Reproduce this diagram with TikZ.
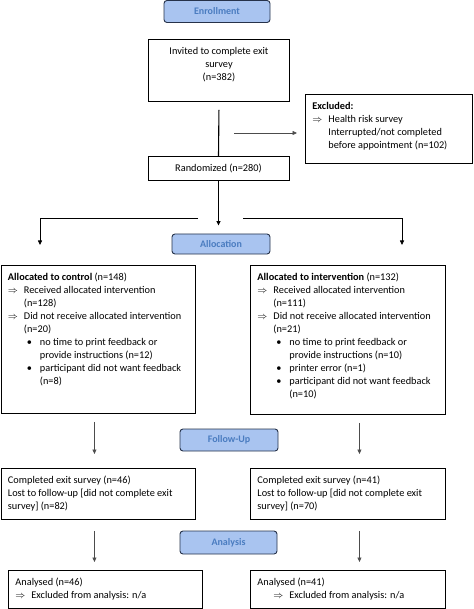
\documentclass[tikz,border=0pt]{standalone}
\usepackage{fontspec}
\setmainfont{Carlito}
\usetikzlibrary{arrows.meta,positioning}

\definecolor{phasefill}{HTML}{A9C4F0}
\definecolor{phaseline}{HTML}{26324A}
\definecolor{phasetext}{HTML}{4A7CC0}

\tikzset{
  phase/.style={draw=phaseline, fill=phasefill, rounded corners=3pt, line width=0.9pt,
    text=phasetext, font=\bfseries, minimum width=98pt, minimum height=21pt, inner sep=0pt},
  box/.style={draw, line width=0.9pt, inner sep=0pt, anchor=north west},
  link/.style={draw=black!70, line width=0.7pt, -{Triangle[length=4.5pt 0,width=4pt 0]}},
  trunk/.style={draw=black, line width=1.1pt},
  branch/.style={draw=black, line width=0.8pt},
}
\newcommand{\boxtext}[3]{\parbox[c][#2][t]{#1}{\raggedright\leftskip=7pt\vspace*{8pt}#3}}
\newcommand{\imp}{\makebox[16pt][l]{$\Rightarrow$}}
\newcommand{\cont}{\hspace*{16pt}}
\newcommand{\bul}{\hspace*{19pt}\makebox[13pt][l]{\textbullet}}
\newcommand{\bulcont}{\hspace*{32pt}}

\begin{document}
\begin{tikzpicture}[x=1pt, y=-1pt, font=\fontsize{10.3}{13}\selectfont]
  \useasboundingbox (0,0) rectangle (473,609);

  % Enrollment
  \node[phase, minimum width=106pt, minimum height=22pt] (enrol) at (217,11.5) {Enrollment};
  \node[box] (invited) at (148,39)
    {\boxtext{141pt}{62pt}{\centering Invited to complete exit\\ survey\\ (n=382)}};
  \node[box] (excl) at (305,94)
    {\boxtext{167pt}{69pt}{\textbf{Excluded:}\\
      \imp Health risk survey\\
      \cont Interrupted/not completed\\
      \cont before appointment (n=102)}};
  \node[box, anchor=north, minimum width=141pt, minimum height=24pt] (rand) at (218.5,156)
    {Randomized (n=280)};

  % Allocation
  \node[phase, minimum height=20pt] (alloc) at (221,244) {Allocation};
  \node[box] (ctrl) at (0.5,265)
    {\boxtext{194pt}{148pt}{\textbf{Allocated to control} (n=148)\\
      \imp Received allocated intervention\\
      \cont (n=128)\\
      \imp Did not receive allocated intervention\\
      \cont (n=20)\\
      \bul no time to print feedback or\\
      \bulcont provide instructions (n=12)\\
      \bul participant did not want feedback\\
      \bulcont (n=8)}};
  \node[box] (intv) at (250,265)
    {\boxtext{195pt}{149pt}{\textbf{Allocated to intervention} (n=132)\\
      \imp Received allocated intervention\\
      \cont (n=111)\\
      \imp Did not receive allocated intervention\\
      \cont (n=21)\\
      \bul no time to print feedback or\\
      \bulcont provide instructions (n=10)\\
      \bul printer error (n=1)\\
      \bul participant did not want feedback\\
      \bulcont (n=10)}};

  % Follow-up
  \node[phase, minimum height=22pt] (follow) at (229,440) {Follow-Up};
  \node[box] (ctrlfu) at (0.5,468)
    {\boxtext{194pt}{51pt}{Completed exit survey (n=46)\\
      Lost to follow-up [did not complete exit\\
      survey] (n=82)}};
  \node[box] (intvfu) at (250,468)
    {\boxtext{195pt}{51pt}{Completed exit survey (n=41)\\
      Lost to follow-up [did not complete exit\\
      survey] (n=70)}};

  % Analysis
  \node[phase, minimum width=97pt, minimum height=23pt] (analysis) at (228.5,542.5) {Analysis};
  \node[box] (ctrlan) at (8,570)
    {\boxtext{194pt}{38pt}{Analysed (n=46)\\ \imp Excluded from analysis: n/a}};
  \node[box] (intvan) at (250,570)
    {\boxtext{195pt}{38pt}{Analysed (n=41)\\ \cont\imp Excluded from analysis: n/a}};

  % Connect the nodes
  \coordinate (exclfrom) at (234,133);
  \coordinate (splitL) at (198,218);
  \coordinate (splitR) at (243,218);
  \coordinate (ctrlin) at (40,245);
  \coordinate (intvin) at (402,245);

  \draw[trunk] ([yshift=-8pt]invited.south) -- (rand.north);
  \draw[link, shorten >=8pt] (exclfrom) -- (exclfrom -| excl.west);
  \draw[link, trunk, shorten >=8pt] (rand.south) -- (rand.south |- alloc.north);
  \draw[link, branch] (splitL) -| (ctrlin);
  \draw[link, branch] (splitR) -| (intvin);

  \draw[link, shorten <=8pt, shorten >=14pt] ([xshift=-3.5pt]ctrl.south) -- ([xshift=-3.5pt]ctrlfu.north);
  \draw[link, shorten <=8pt, shorten >=14pt] ([xshift=11.5pt]intv.south) -- ([xshift=11.5pt]intvfu.north);
  \draw[link, shorten <=11pt, shorten >=8pt] ([xshift=-3.5pt]ctrlfu.south) -- ([xshift=-3.5pt]ctrlfu.south |- ctrlan.north);
  \draw[link, shorten <=11pt, shorten >=8pt] ([xshift=11.5pt]intvfu.south) -- ([xshift=11.5pt]intvfu.south |- intvan.north);

\end{tikzpicture}
\end{document}
